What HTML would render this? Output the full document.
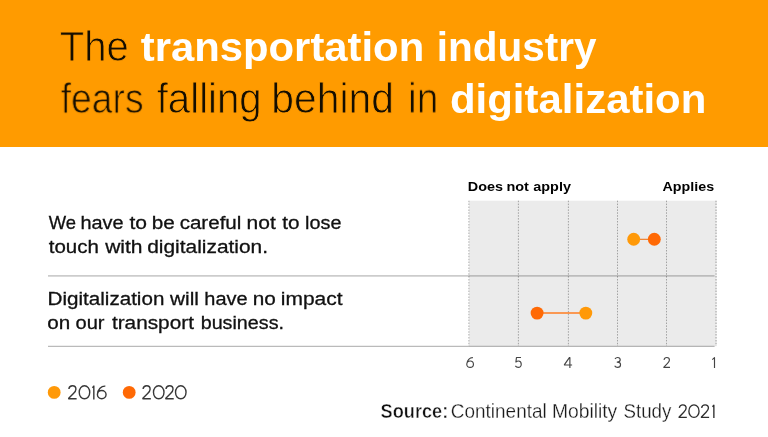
<!DOCTYPE html>
<html><head><meta charset="utf-8">
<style>
html,body{margin:0;padding:0;}
body{width:768px;height:437px;position:relative;overflow:hidden;background:#fff;font-family:"Liberation Sans",sans-serif;color:#111;}
.banner{position:absolute;left:0;top:0;width:768px;height:147px;background:#ff9b00;}
.t{position:absolute;left:0;top:0;white-space:nowrap;transform-origin:0 0;line-height:1;will-change:transform;}
</style></head><body>
<div class="banner"></div>
<svg width="768" height="437" viewBox="0 0 768 437" style="position:absolute;left:0;top:0">
<rect x="469" y="200.7" width="247.5" height="145.6" fill="#ebebeb"/>
<g stroke-width="1" stroke-dasharray="1.5 1.4" fill="none">
<path d="M468.9 200.7V346" stroke="#c2c2c2" stroke-width="1.4"/>
<path d="M518.4 200.7V346M568.4 200.7V346M617.5 200.7V346M666.5 200.7V346" stroke="#a2a2a2"/>
<path d="M716 200.7V346" stroke="#c2c2c2" stroke-width="1.8"/>
</g>
<path d="M48 275.9H714.6" stroke="#000" stroke-opacity=".2" stroke-width="1.7"/>
<path d="M48 346.4H714.6" stroke="#000" stroke-opacity=".27" stroke-width="1.3"/>
<path d="M633.7 239.3H654.3" stroke="#f07418" stroke-width="1.1"/><path d="M537.1 313.1H585.8" stroke="#ff7d20" stroke-width="1.5"/>
<circle cx="633.7" cy="239.3" r="6.45" fill="#ff9908"/>
<circle cx="654.3" cy="239.3" r="6.45" fill="#ff6905"/>
<circle cx="537.1" cy="313.1" r="6.45" fill="#ff6905"/>
<circle cx="585.8" cy="313.1" r="6.45" fill="#ff9908"/>
<circle cx="54.2" cy="392.4" r="6.4" fill="#ff9908"/>
<circle cx="129.2" cy="392.4" r="6.4" fill="#ff6905"/>
<g fill="none" stroke="#444" stroke-linejoin="round"><path transform="translate(466.22 356.90) scale(0.1110)" d="M60 7C34 5 5 28 5 66A30 29 0 1 0 65 66A30 29 0 1 0 5 66" stroke-width="10.36"/><path transform="translate(514.80 356.90) scale(0.1110)" d="M56 5H15L10 46C17 40 25 37 34 37C49 37 58 49 58 66C58 83 47 95 31 95C20 95 11 90 5 81" stroke-width="10.36"/><path transform="translate(563.89 356.90) scale(0.1110)" d="M54 100V5H51L5 70V73H74" stroke-width="10.36"/><path transform="translate(614.10 356.90) scale(0.1110)" d="M8 18C14 9 22 5 32 5C46 5 55 13 55 26C55 39 45 47 28 47C47 47 58 56 58 71C58 86 47 95 31 95C19 95 10 89 5 80" stroke-width="10.36"/><path transform="translate(663.10 356.90) scale(0.1110)" d="M8 27C10 14 20 5 33 5C47 5 57 14 57 28C57 40 50 48 40 58L7 92V95H62" stroke-width="10.36"/><path transform="translate(711.95 356.90) scale(0.1110)" d="M3 25L23 7V100" stroke-width="10.36"/></g>
<g fill="none" stroke="#383838" stroke-linejoin="round"><path transform="translate(67.70 385.10) scale(0.1440)" d="M8 27C10 14 20 5 33 5C47 5 57 14 57 28C57 40 50 48 40 58L7 92V95H62" stroke-width="9.72"/><path transform="translate(78.50 385.10) scale(0.1440)" d="M41.5 5C62 5 78 24 78 50C78 76 62 95 41.5 95C21 95 5 76 5 50C5 24 21 5 41.5 5Z" stroke-width="9.72"/><path transform="translate(92.10 385.10) scale(0.1440)" d="M2 18L12 7V100" stroke-width="9.72"/><path transform="translate(96.70 385.10) scale(0.1440)" d="M60 7C34 5 5 28 5 66A30 29 0 1 0 65 66A30 29 0 1 0 5 66" stroke-width="9.72"/></g>
<g fill="none" stroke="#383838" stroke-linejoin="round"><path transform="translate(141.90 385.10) scale(0.1440)" d="M8 27C10 14 20 5 33 5C47 5 57 14 57 28C57 40 50 48 40 58L7 92V95H62" stroke-width="9.72"/><path transform="translate(152.75 385.10) scale(0.1440)" d="M41.5 5C62 5 78 24 78 50C78 76 62 95 41.5 95C21 95 5 76 5 50C5 24 21 5 41.5 5Z" stroke-width="9.72"/><path transform="translate(164.80 385.10) scale(0.1440)" d="M8 27C10 14 20 5 33 5C47 5 57 14 57 28C57 40 50 48 40 58L7 92V95H62" stroke-width="9.72"/><path transform="translate(174.80 385.10) scale(0.1440)" d="M41.5 5C62 5 78 24 78 50C78 76 62 95 41.5 95C21 95 5 76 5 50C5 24 21 5 41.5 5Z" stroke-width="9.72"/></g>
<g fill="none" stroke="#2e2e2e" stroke-linejoin="round"><path transform="translate(678.20 404.20) scale(0.1390)" d="M8 27C10 14 20 5 33 5C47 5 57 14 57 28C57 40 50 48 40 58L7 92V95H62" stroke-width="9.71"/><path transform="translate(688.20 404.20) scale(0.1390)" d="M41.5 5C62 5 78 24 78 50C78 76 62 95 41.5 95C21 95 5 76 5 50C5 24 21 5 41.5 5Z" stroke-width="9.71"/><path transform="translate(700.50 404.20) scale(0.1390)" d="M8 27C10 14 20 5 33 5C47 5 57 14 57 28C57 40 50 48 40 58L7 92V95H62" stroke-width="9.71"/><path transform="translate(712.20 404.20) scale(0.1390)" d="M2 18L12 7V100" stroke-width="9.71"/></g>
</svg>
<div class="t" style="font-size:39.96px;color:#150e00;transform:translate(59.87px,26.40px) scale(1.0021,1.0636);-webkit-text-stroke:0.8px #ff9b00;">The</div>
<div class="t" style="font-size:41.5px;font-weight:bold;color:#fff;transform:translate(140.70px,26.30px) scale(1.0080,1.0000);">transportation</div>
<div class="t" style="font-size:40.25px;font-weight:bold;color:#fff;transform:translate(436.82px,27.28px) scale(1.0054,1.0311);">industry</div>
<div class="t" style="font-size:37.22px;color:#150e00;transform:translate(60.70px,77.50px) scale(0.9999,1.1419);-webkit-text-stroke:0.8px #ff9b00;">fears</div>
<div class="t" style="font-size:40.0px;color:#150e00;transform:translate(156.70px,76.78px) scale(1.0047,1.0625);-webkit-text-stroke:0.8px #ff9b00;">falling</div>
<div class="t" style="font-size:40.68px;color:#150e00;transform:translate(271.33px,77.38px) scale(1.0030,1.0447);-webkit-text-stroke:0.8px #ff9b00;">behind</div>
<div class="t" style="font-size:38.98px;color:#150e00;transform:translate(408.01px,76.92px) scale(0.9955,1.0903);-webkit-text-stroke:0.8px #ff9b00;">in</div>
<div class="t" style="font-size:41.5px;font-weight:bold;color:#fff;transform:translate(449.96px,77.60px) scale(1.0110,1.0000);">digitalization</div>
<div class="t" style="font-size:18.29px;color:#111;transform:translate(48.64px,213.38px) scale(1.0071,1.0279);-webkit-text-stroke:0.3px #111;">We</div>
<div class="t" style="font-size:18.8px;color:#111;transform:translate(80.47px,213.80px) scale(1.0605,1.0000);-webkit-text-stroke:0.3px #111;">have</div>
<div class="t" style="font-size:18.8px;color:#111;transform:translate(129.45px,213.80px) scale(1.1200,1.0000);-webkit-text-stroke:0.3px #111;">to</div>
<div class="t" style="font-size:18.8px;color:#111;transform:translate(151.74px,213.80px) scale(1.1012,1.0000);-webkit-text-stroke:0.3px #111;">be</div>
<div class="t" style="font-size:18.8px;color:#111;transform:translate(179.63px,213.80px) scale(1.0954,1.0000);-webkit-text-stroke:0.3px #111;">careful</div>
<div class="t" style="font-size:18.8px;color:#111;transform:translate(246.60px,213.80px) scale(1.1200,1.0000);-webkit-text-stroke:0.3px #111;">not</div>
<div class="t" style="font-size:18.8px;color:#111;transform:translate(282.33px,213.80px) scale(1.1027,1.0000);-webkit-text-stroke:0.3px #111;">to</div>
<div class="t" style="font-size:18.8px;color:#111;transform:translate(305.08px,213.80px) scale(1.0558,1.0000);-webkit-text-stroke:0.3px #111;">lose</div>
<div class="t" style="font-size:18.8px;color:#111;transform:translate(48.73px,238.00px) scale(1.0912,1.0000);-webkit-text-stroke:0.3px #111;">touch</div>
<div class="t" style="font-size:18.8px;color:#111;transform:translate(105.13px,238.00px) scale(1.1200,1.0000);-webkit-text-stroke:0.3px #111;">with</div>
<div class="t" style="font-size:18.8px;color:#111;transform:translate(147.25px,238.00px) scale(1.1120,1.0000);-webkit-text-stroke:0.3px #111;">digitalization.</div>
<div class="t" style="font-size:18.8px;color:#111;transform:translate(47.61px,290.00px) scale(1.0964,1.0000);-webkit-text-stroke:0.3px #111;">Digitalization</div>
<div class="t" style="font-size:18.8px;color:#111;transform:translate(170.07px,290.00px) scale(1.1068,1.0000);-webkit-text-stroke:0.3px #111;">will</div>
<div class="t" style="font-size:18.8px;color:#111;transform:translate(204.37px,290.00px) scale(1.0630,1.0000);-webkit-text-stroke:0.3px #111;">have</div>
<div class="t" style="font-size:18.8px;color:#111;transform:translate(252.73px,290.00px) scale(1.1044,1.0000);-webkit-text-stroke:0.3px #111;">no</div>
<div class="t" style="font-size:18.8px;color:#111;transform:translate(280.82px,290.00px) scale(1.1159,1.0000);-webkit-text-stroke:0.3px #111;">impact</div>
<div class="t" style="font-size:18.8px;color:#111;transform:translate(47.36px,314.20px) scale(1.0992,1.0000);-webkit-text-stroke:0.3px #111;">on</div>
<div class="t" style="font-size:18.8px;color:#111;transform:translate(75.48px,314.20px) scale(1.0693,1.0000);-webkit-text-stroke:0.3px #111;">our</div>
<div class="t" style="font-size:18.8px;color:#111;transform:translate(111.93px,314.20px) scale(1.1063,1.0000);-webkit-text-stroke:0.3px #111;">transport</div>
<div class="t" style="font-size:18.8px;color:#111;transform:translate(200.66px,314.20px) scale(1.0500,1.0000);-webkit-text-stroke:0.3px #111;">business.</div>
<div class="t" style="font-size:12.9px;font-weight:bold;color:#000;transform:translate(467.80px,180.80px) scale(1.1167,1.0000);">Does</div>
<div class="t" style="font-size:12.9px;font-weight:bold;color:#000;transform:translate(506.38px,180.80px) scale(1.1200,1.0000);">not</div>
<div class="t" style="font-size:12.9px;font-weight:bold;color:#000;transform:translate(533.31px,180.80px) scale(1.1171,1.0000);">apply</div>
<div class="t" style="font-size:12.9px;font-weight:bold;color:#000;transform:translate(662.50px,180.80px) scale(1.1078,1.0000);">Applies</div>
<div class="t" style="font-size:17.97px;font-weight:bold;color:#111;transform:translate(380.62px,403.11px) scale(1.0111,1.0851);-webkit-text-stroke:0.4px #fff;">Source:</div>
<div class="t" style="font-size:18.94px;color:#1a1a1a;transform:translate(450.81px,402.86px) scale(1.0008,1.0296);-webkit-text-stroke:0.25px #fff;">Continental</div>
<div class="t" style="font-size:19.2px;color:#1a1a1a;transform:translate(551.90px,402.05px) scale(1.0044,1.0156);-webkit-text-stroke:0.25px #fff;">Mobility</div>
<div class="t" style="font-size:18.5px;color:#1a1a1a;transform:translate(623.46px,402.49px) scale(1.0118,1.0541);-webkit-text-stroke:0.25px #fff;">Study</div>
</body></html>
